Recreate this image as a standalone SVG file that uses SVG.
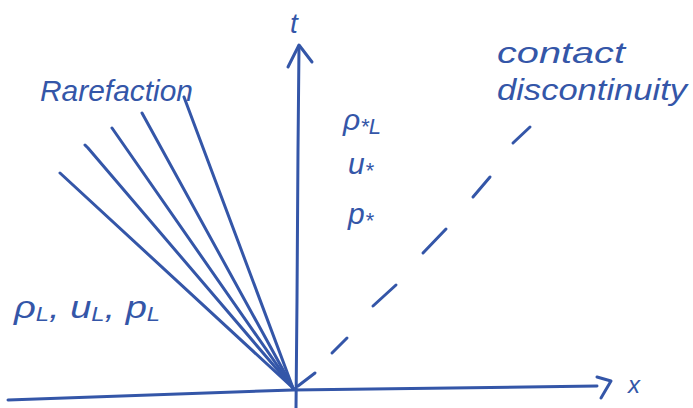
<svg xmlns="http://www.w3.org/2000/svg" width="693" height="408" viewBox="0 0 693 408">
<style>
.ln{stroke:#3456a8;stroke-width:3;fill:none;stroke-linecap:round;stroke-linejoin:round}
.tx{font-family:"Liberation Sans",Arial,sans-serif;font-style:italic;fill:#3456a8}
</style>
<rect width="693" height="408" fill="#fff"/>
<g id="axes">
  <g id="t-axis">
    <path class="ln" d="M296 408 L297 300 L298 150 L299 46"/>
    <path class="ln" d="M288 67 L299 45 L312 62"/>
    <text class="tx" x="290" y="33" font-size="28">t</text>
  </g>
  <g id="x-axis">
    <path class="ln" d="M8 400 L293 390 L597 386"/>
    <path class="ln" d="M597 377 L611 381 L601 398"/>
    <text class="tx" x="628" y="393" font-size="24">x</text>
  </g>
</g>
<g id="connectors">
  <g id="rarefaction-fan">
    <path class="ln" d="M293 388 L60 173"/>
    <path class="ln" d="M293 388 L88 148 L85 145"/>
    <path class="ln" d="M293 388 L112 128"/>
    <path class="ln" d="M293 388 L142 113"/>
    <path class="ln" d="M293 388 L184 97"/>
  </g>
  <g id="contact-discontinuity">
    <path class="ln" d="M298 386 L315 373"/>
    <path class="ln" d="M332 353 L347 338"/>
    <path class="ln" d="M373 306 L396 285"/>
    <path class="ln" d="M423 253 L446 229"/>
    <path class="ln" d="M473 197 L490 177"/>
    <path class="ln" d="M513 143 L530 127"/>
  </g>
</g>
<g id="label-rarefaction">
  <text class="tx" x="40" y="101" font-size="29" textLength="153" lengthAdjust="spacingAndGlyphs">Rarefaction</text>
</g>
<g id="label-star">
  <text class="tx" x="343" y="130" font-size="30">ρ<tspan font-size="22" dy="4">*L</tspan></text>
  <text class="tx" x="348" y="174" font-size="30">u<tspan font-size="22" dy="4">*</tspan></text>
  <text class="tx" x="348" y="224" font-size="30">p<tspan font-size="22" dy="4">*</tspan></text>
</g>
<g id="label-left">
  <text class="tx" x="14" y="318" font-size="32" textLength="146" lengthAdjust="spacingAndGlyphs">ρ<tspan font-size="20" dy="3">L</tspan><tspan dy="-3">, u</tspan><tspan font-size="20" dy="3">L</tspan><tspan dy="-3">, p</tspan><tspan font-size="20" dy="3">L</tspan></text>
</g>
<g id="label-contact">
  <text class="tx" x="497" y="63" font-size="30" textLength="128" lengthAdjust="spacingAndGlyphs">contact</text>
  <text class="tx" x="497" y="100" font-size="30" textLength="190" lengthAdjust="spacingAndGlyphs">discontinuity</text>
</g>
</svg>
